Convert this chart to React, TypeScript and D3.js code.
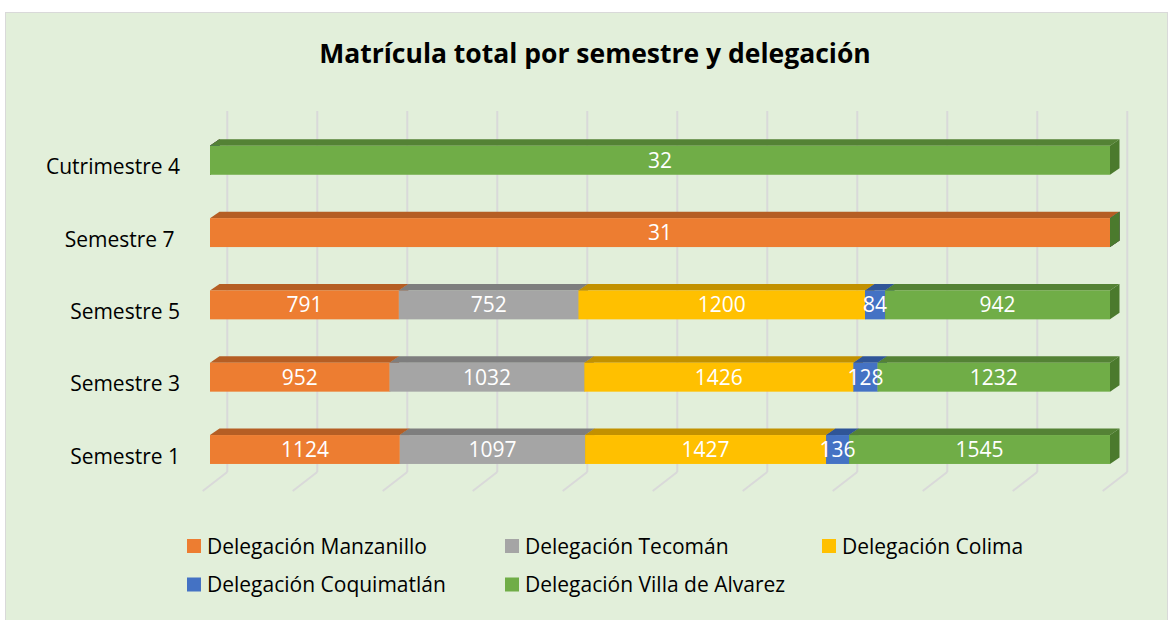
import React from 'react';
import * as d3 from 'd3';

// categories listed as in the source sheet (bottom to top on the chart)
const categories = ['Semestre 1', 'Semestre 3', 'Semestre 5', 'Semestre 7 ', 'Cutrimestre 4'];

const seriesNames = [
  'Delegación Manzanillo',
  'Delegación Tecomán',
  'Delegación Colima',
  'Delegación Coquimatlán',
  'Delegación Villa de Alvarez',
];

const manzanillo = [1124, 952, 791, 31, 0];
const tecoman = [1097, 1032, 752, 0, 0];
const colima = [1427, 1426, 1200, 0, 0];
const coquimatlan = [136, 128, 84, 0, 0];
const villaAlvarez = [1545, 1232, 942, 0, 32];

const percentTicks = d3.range(0, 1.0001, 0.1);

const frontColors = ['#ED7D31', '#A5A5A5', '#FFC000', '#4472C4', '#70AD47'];
const topColors = ['#B55E24', '#7E7E7E', '#C29100', '#2F5597', '#548235'];
const sideColors = ['#A9561F', '#767676', '#B38700', '#2B4F8C', '#4B7A2D'];

const W = 1172;
const H = 620;
const FONT = '"Open Sans", Lato, sans-serif';

const App: React.FC = () => {
  const values = [manzanillo, tecoman, colima, coquimatlan, villaAlvarez];
  const rows = categories.map((c, i) => {
    const row: { [k: string]: any } = { cat: c };
    seriesNames.forEach((s, j) => { row[s] = values[j][i]; });
    return row;
  });

  const stacked = d3.stack<any>()
    .keys(seriesNames)
    .offset(d3.stackOffsetExpand)(rows);

  const x = d3.scaleLinear().domain([0, 1]).range([210, 1110]);
  const y = d3.scaleBand<string>()
    .domain([...categories].reverse())
    .range([124.15, 485.65])
    .paddingInner(0.6)
    .paddingOuter(0.3);

  // 3D depth offsets
  const bdx = 9.5, bdy = -6.5;        // bar depth
  const wallDx = 17.3;                 // back wall from bar front
  const floorFrontDx = -7.3;           // floor front from bar front
  const wallTop = 111, wallBottom = 472, floorFront = 491;

  const legendPos = [
    { x: 187, y: 546 }, { x: 505, y: 546 }, { x: 822, y: 546 },
    { x: 187, y: 584.5 }, { x: 505, y: 584.5 },
  ];

  return (
    <svg width={W} height={H} style={{ position: 'absolute', left: 0, top: 0, display: 'block' }}
      fontFamily={FONT}>
      <rect x={0} y={0} width={W} height={H} fill="#fff" />
      <rect x={5.5} y={12.5} width={1162} height={620} fill="#E2EFDA" stroke="#D9D9D9" strokeWidth={1} />

      <text x={595} y={62.5} textAnchor="middle" fontSize={26.5} fontWeight="bold" fill="#000">
        Matrícula total por semestre y delegación
      </text>

      {/* back wall gridlines and floor lines */}
      <g stroke="#D9D9D9" strokeWidth={2} fill="none">
        {percentTicks.map((t, i) => {
          const xb = x(t) + wallDx;
          const xf = x(t) + floorFrontDx;
          return (
            <g key={i}>
              <line x1={xb} x2={xb} y1={wallTop} y2={wallBottom} />
              <line x1={xb} y1={wallBottom} x2={xf} y2={floorFront} />
            </g>
          );
        })}
      </g>

      {/* bars */}
      {stacked.map((s, si) => (
        <g key={s.key}>
          {s.map((d, di) => {
            const cat = d.data.cat as string;
            const y0 = y(cat)!;
            const h = y.bandwidth();
            const x0 = x(d[0]);
            const x1 = x(d[1]);
            const w = x1 - x0;
            const top = `M${x0},${y0} L${x0 + bdx},${y0 + bdy} L${x1 + bdx},${y0 + bdy} L${x1},${y0} Z`;
            const side = `M${x1},${y0} L${x1 + bdx},${y0 + bdy} L${x1 + bdx},${y0 + bdy + h} L${x1},${y0 + h} Z`;
            return (
              <g key={di}>
                {w > 0 && <path d={top} fill={topColors[si]} />}
                <path d={side} fill={sideColors[si]} />
                {w > 0 && <rect x={x0} y={y0} width={w} height={h} fill={frontColors[si]} />}
              </g>
            );
          })}
        </g>
      ))}

      {/* data labels */}
      {stacked.map((s, si) => (
        <g key={`l${s.key}`}>
          {s.map((d, di) => {
            const v = values[si][di];
            if (!v) return null;
            const cat = d.data.cat as string;
            const cy = y(cat)! + y.bandwidth() / 2;
            return (
              <text key={di} x={(x(d[0]) + x(d[1])) / 2} y={cy + 7.5} textAnchor="middle"
                fontSize={21} fill="#fff">{v}</text>
            );
          })}
        </g>
      ))}

      {/* category labels */}
      {categories.map((c) => (
        <text key={c} x={180} y={y(c)! + y.bandwidth() / 2 + 14} textAnchor="end" fontSize={21}
          fill="#000" style={{ whiteSpace: 'pre' }}>{c}</text>
      ))}

      {/* legend */}
      {seriesNames.map((s, i) => (
        <g key={s} transform={`translate(${legendPos[i].x},${legendPos[i].y})`}>
          <rect x={0} y={-7} width={14} height={14} fill={frontColors[i]} />
          <text x={20} y={7.5} fontSize={21} fill="#000">{s}</text>
        </g>
      ))}
    </svg>
  );
};

export default App;
